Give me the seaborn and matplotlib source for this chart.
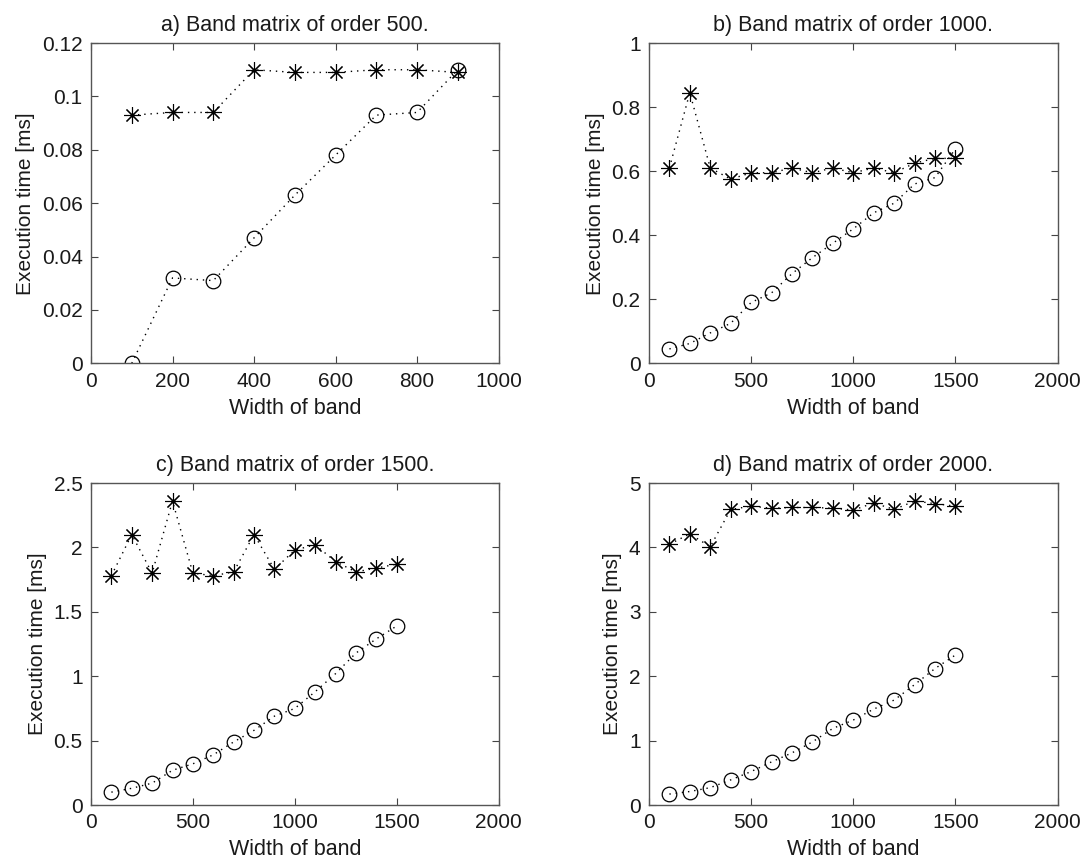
import seaborn as sns
import matplotlib.pyplot as plt
import pandas as pd

# band widths
widths_a = [100, 200, 300, 400, 500, 600, 700, 800, 900]
widths_full = [100, 200, 300, 400, 500, 600, 700, 800, 900, 1000, 1100, 1200, 1300, 1400, 1500]

# order 500
star_500 = [0.093, 0.094, 0.094, 0.110, 0.109, 0.109, 0.110, 0.110, 0.109]
circ_500 = [0.000, 0.032, 0.031, 0.047, 0.063, 0.078, 0.093, 0.094, 0.110]

# order 1000
star_1000 = [0.61, 0.845, 0.61, 0.575, 0.595, 0.595, 0.61, 0.595, 0.61, 0.595, 0.61, 0.595, 0.625, 0.64, 0.64]
circ_1000 = [0.045, 0.062, 0.095, 0.125, 0.19, 0.22, 0.28, 0.33, 0.375, 0.42, 0.47, 0.50, 0.56, 0.58, 0.67]

# order 1500
star_1500 = [1.78, 2.10, 1.80, 2.36, 1.80, 1.78, 1.81, 2.10, 1.83, 1.98, 2.02, 1.89, 1.81, 1.84, 1.87]
circ_1500 = [0.10, 0.13, 0.17, 0.27, 0.32, 0.39, 0.49, 0.58, 0.69, 0.75, 0.88, 1.02, 1.18, 1.29, 1.39]

# order 2000
star_2000 = [4.05, 4.21, 4.01, 4.59, 4.64, 4.61, 4.62, 4.62, 4.61, 4.58, 4.69, 4.59, 4.72, 4.68, 4.64]
circ_2000 = [0.17, 0.21, 0.27, 0.39, 0.52, 0.67, 0.81, 0.98, 1.19, 1.32, 1.49, 1.63, 1.87, 2.12, 2.33]

titles = ['a) Band matrix of order 500.', 'b) Band matrix of order 1000.',
          'c) Band matrix of order 1500.', 'd) Band matrix of order 2000.']

sns.set_style('ticks')
plt.rcParams['font.family'] = ['Liberation Sans', 'DejaVu Sans']
plt.rcParams['text.color'] = '#1a1a1a'
plt.rcParams['axes.labelcolor'] = '#1a1a1a'

fig = plt.figure(figsize=(10.87, 8.61), dpi=100)

# axes positions (left, bottom, width, height)
boxes = [[0.0837, 0.578, 0.375, 0.372],
         [0.597, 0.578, 0.376, 0.372],
         [0.0837, 0.065, 0.375, 0.374],
         [0.597, 0.065, 0.376, 0.374]]

panels = [
    (widths_a, star_500, circ_500, (0, 1000), (0, 0.12), [0, 200, 400, 600, 800, 1000],
     [0, 0.02, 0.04, 0.06, 0.08, 0.1, 0.12], ['0', '0.02', '0.04', '0.06', '0.08', '0.1', '0.12']),
    (widths_full, star_1000, circ_1000, (0, 2000), (0, 1), [0, 500, 1000, 1500, 2000],
     [0, 0.2, 0.4, 0.6, 0.8, 1], ['0', '0.2', '0.4', '0.6', '0.8', '1']),
    (widths_full, star_1500, circ_1500, (0, 2000), (0, 2.5), [0, 500, 1000, 1500, 2000],
     [0, 0.5, 1, 1.5, 2, 2.5], ['0', '0.5', '1', '1.5', '2', '2.5']),
    (widths_full, star_2000, circ_2000, (0, 2000), (0, 5), [0, 500, 1000, 1500, 2000],
     [0, 1, 2, 3, 4, 5], ['0', '1', '2', '3', '4', '5']),
]

dots = (0, (1, 3.5))

for box, title, (xs, stars, circs, xlim, ylim, xt, yt, ytl) in zip(boxes, titles, panels):
    ax = fig.add_axes(box)
    df = pd.DataFrame({'w': xs, 'star': stars, 'circ': circs})
    sns.lineplot(data=df, x='w', y='star', ax=ax, color='black', linestyle=dots, linewidth=1.0,
                 marker=(8, 2, 0), markersize=12, markeredgewidth=0.8, markeredgecolor='black')
    sns.lineplot(data=df, x='w', y='circ', ax=ax, color='black', linestyle=dots, linewidth=1.0,
                 marker='o', markersize=10.5, markerfacecolor='none', markeredgewidth=0.9,
                 markeredgecolor='black')
    ax.set_xlim(*xlim)
    ax.set_ylim(*ylim)
    ax.set_xticks(xt)
    ax.set_xticklabels([str(v) for v in xt])
    ax.set_yticks(yt)
    ax.set_yticklabels(ytl)
    ax.tick_params(direction='in', top=True, right=True, labelsize=15, length=5,
                   color='#444444', labelcolor='#1a1a1a', pad=6)
    for sp in ax.spines.values():
        sp.set_visible(True)
        sp.set_color('#555555')
        sp.set_linewidth(1.0)
    ax.set_title(title, fontsize=15.5, pad=9)
    ax.set_xlabel('Width of band', fontsize=15.5, labelpad=5)
    ax.set_ylabel('Execution time [ms]', fontsize=15, labelpad=5)

plt.savefig('out.png', dpi=100)
